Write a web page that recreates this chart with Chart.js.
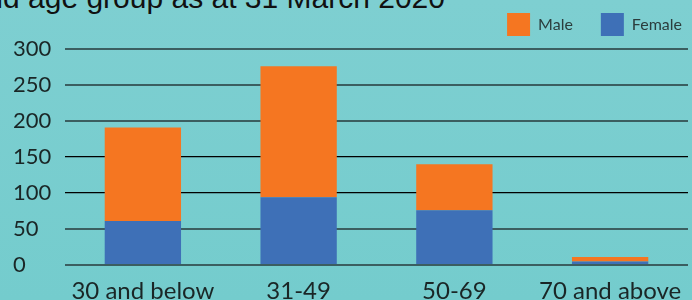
<!DOCTYPE html>
<html>
<head>
<meta charset="utf-8">
<script src="https://cdn.jsdelivr.net/npm/chart.js@4"></script>
<style>
    html, body {
        margin: 0;
        padding: 0;
        width: 692px;
        height: 300px;
        overflow: hidden;
        background: linear-gradient(#7ecfd1, #74cccd);
    }
    #title {
        position: absolute;
        top: -18px;
        right: 247px;
        white-space: nowrap;
        font-family: 'Liberation Sans', Arial, sans-serif;
        font-size: 30px;
        line-height: 31px;
        color: #111;
    }
    #wrap {
        position: absolute;
        left: 0;
        top: 0;
        width: 710px;
        height: 300px;
    }
</style>
</head>
<body>
<div id="title">Staff by gender and age group as at 31 March 2020</div>
<div id="wrap"><canvas id="ageChart" width="710" height="300"></canvas></div>
<script>
const ageGroups = ['30 and below', '31-49', '50-69', '70 and above'];
const female = [61, 94, 76, 5];
const male = [130, 182, 64, 6];
const yTicks = [0, 50, 100, 150, 200, 250, 300];

const FONT = 'Lato';

new Chart(document.getElementById('ageChart'), {
    type: 'bar',
    data: {
        labels: ageGroups,
        datasets: [{
            label: 'Female',
            data: female,
            backgroundColor: '#3e70b7',
            borderWidth: 0,
            stack: 'a'
        }, {
            label: 'Male',
            data: male,
            backgroundColor: '#f57621',
            borderWidth: 0,
            stack: 'a'
        }]
    },
    options: {
        responsive: false,
        animation: false,
        datasets: {
            bar: { barPercentage: 0.49, categoryPercentage: 1 }
        },
        layout: {
            padding: { top: -15, left: 13, right: 0, bottom: 0 }
        },
        plugins: {
            tooltip: { enabled: false },
            legend: {
                position: 'top',
                align: 'end',
                reverse: true,
                labels: {
                    boxWidth: 23,
                    boxHeight: 23,
                    padding: 28,
                    color: '#2b3d3d',
                    font: { family: FONT, size: 16 }
                }
            }
        },
        scales: {
            x: {
                stacked: true,
                grid: { display: false, drawTicks: false },
                border: { display: false },
                ticks: {
                    color: '#1a2626',
                    font: { family: FONT, size: 24 },
                    padding: 12,
                    maxRotation: 0,
                    autoSkip: false
                },
                afterFit: s => { s.height = 35; }
            },
            x2: {
                type: 'category',
                position: 'top',
                grid: { display: false },
                border: { display: false },
                ticks: { display: false },
                afterFit: s => { s.height = 3; }
            },
            y: {
                stacked: true,
                min: 0,
                max: 300,
                afterBuildTicks: s => { s.ticks = yTicks.map(v => ({ value: v })); },
                grid: {
                    drawTicks: false,
                    color: ctx => (ctx.tick && (ctx.tick.value === 100 || ctx.tick.value === 150)) ? '#000000' : '#3b5e60',
                    lineWidth: ctx => (ctx.tick && (ctx.tick.value === 100 || ctx.tick.value === 150)) ? 1.2 : 2
                },
                border: { display: false },
                ticks: {
                    crossAlign: 'far',
                    color: '#1a2626',
                    font: { family: FONT, size: 22 }
                },
                afterFit: s => { s.width = 52; }
            },
            y2: {
                type: 'linear',
                position: 'right',
                grid: { display: false },
                border: { display: false },
                ticks: { display: false },
                afterFit: s => { s.width = 22; }
            }
        }
    }
});
</script>
</body>
</html>
